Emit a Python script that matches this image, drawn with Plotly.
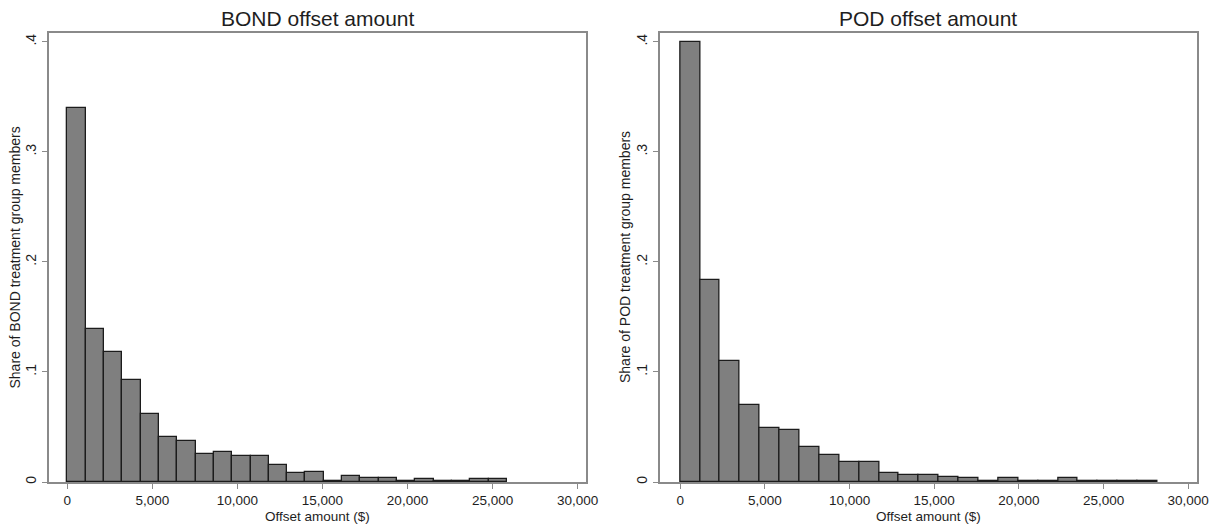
import numpy as np
import plotly.graph_objects as go

# Histogram shares per offset-amount bin (24 equal-width bins starting at 0)
bond_max_offset = 25850
pod_max_offset = 28190
n_bins = 24

bond_share = [0.340, 0.1388, 0.118, 0.0927, 0.0621, 0.0406, 0.037, 0.0255,
              0.027, 0.0239, 0.0239, 0.0157, 0.0078, 0.0095, 0.0012, 0.0055,
              0.0036, 0.0036, 0.0012, 0.0027, 0.0012, 0.0012, 0.0024, 0.0024]
pod_share = [0.400, 0.1835, 0.1098, 0.0702, 0.0495, 0.0475, 0.0316, 0.0241,
             0.0184, 0.0182, 0.008, 0.0066, 0.006, 0.0047, 0.0035, 0.001,
             0.0033, 0.001, 0.001, 0.0033, 0.001, 0.001, 0.001, 0.001]

x_tick_vals = [0, 5000, 10000, 15000, 20000, 25000, 30000]
x_tick_text = ["0", "5,000", "10,000", "15,000", "20,000", "25,000", "30,000"]
y_tick_vals = [0, 0.1, 0.2, 0.3, 0.4]
y_tick_text = ["0", ".1", ".2", ".3", ".4"]

W, H = 1217, 524
FONT = "Liberation Sans, Arial, sans-serif"
TEXT = "#1e1e1e"
FRAME = "#8a8a8a"


def bins(max_offset, shares):
    edges = np.linspace(0, max_offset, n_bins + 1)
    centers = (edges[:-1] + edges[1:]) / 2
    width = edges[1] - edges[0]
    return centers, np.full(len(shares), width)


fig = go.Figure()
for shares, mx, xa, ya in [(bond_share, bond_max_offset, "x", "y"),
                           (pod_share, pod_max_offset, "x2", "y2")]:
    c, w = bins(mx, shares)
    fig.add_trace(go.Bar(
        x=c, y=shares, width=w, xaxis=xa, yaxis=ya,
        marker=dict(color="#7f7f7f", line=dict(color="#1c1c1c", width=1.3)),
        showlegend=False,
    ))

# panel geometry in pixels
left_px = (49, 586)
right_px = (659.5, 1197)
top_px, bottom_px = 33, 482


def xdom(p):
    return [p[0] / W, p[1] / W]


ydom = [(H - bottom_px) / H, (H - top_px) / H]

xcommon = dict(
    tickvals=x_tick_vals, ticktext=x_tick_text, ticks="outside", ticklen=5,
    tickcolor=FRAME, tickwidth=1, showgrid=False, zeroline=False,
    showline=True, linecolor=FRAME, linewidth=2, mirror=True,
    tickfont=dict(family=FONT, size=13.5, color=TEXT), automargin=False,
)
ycommon = dict(
    tickvals=y_tick_vals, ticktext=y_tick_text, ticks="outside", ticklen=5,
    tickcolor=FRAME, tickwidth=1, showgrid=False, zeroline=False,
    showline=True, linecolor=FRAME, linewidth=2, mirror=True,
    tickangle=-90, range=[0, 0.408],
    tickfont=dict(family=FONT, size=14, color=TEXT), automargin=False,
)

fig.update_layout(
    width=W, height=H, autosize=False,
    margin=dict(l=0, r=0, t=0, b=0),
    paper_bgcolor="white", plot_bgcolor="white",
    bargap=0,
    xaxis=dict(domain=xdom(left_px), anchor="y", range=[-1076, 30494], **xcommon),
    yaxis=dict(domain=ydom, anchor="x", **ycommon),
    xaxis2=dict(domain=xdom(right_px), anchor="y2", range=[-1223, 30520], **xcommon),
    yaxis2=dict(domain=ydom, anchor="x2", **ycommon),
)

annots = []
for p, title, ylab in [(left_px, "BOND offset amount", "Share of BOND treatment group members"),
                       (right_px, "POD offset amount", "Share of POD treatment group members")]:
    cx = (p[0] + p[1]) / 2 / W
    annots.append(dict(text=title, x=cx, y=1 - 18 / H, xref="paper", yref="paper",
                       xanchor="center", yanchor="middle", showarrow=False,
                       font=dict(family=FONT, size=21, color=TEXT)))
    annots.append(dict(text="Offset amount ($)", x=cx, y=1 - 516 / H, xref="paper", yref="paper",
                       xanchor="center", yanchor="middle", showarrow=False,
                       font=dict(family=FONT, size=13.5, color=TEXT)))
    annots.append(dict(text=ylab, x=(p[0] - 34) / W, y=1 - 257.5 / H, xref="paper", yref="paper",
                       xanchor="center", yanchor="middle", textangle=-90, showarrow=False,
                       font=dict(family=FONT, size=14, color=TEXT)))
fig.update_layout(annotations=annots)

fig.write_html("out.html")
